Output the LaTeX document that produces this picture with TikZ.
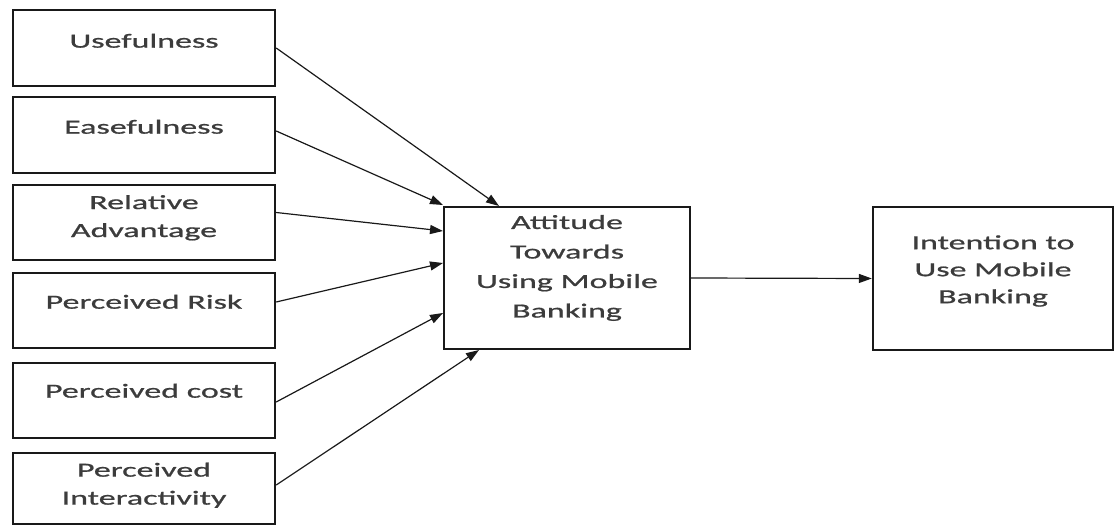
\documentclass[tikz,border=0pt]{standalone}
\usepackage{fontspec}
\newfontfamily\diafont[FakeStretch=1.7,FakeBold=0.9]{Carlito}
\usetikzlibrary{arrows.meta,positioning}
\definecolor{txt}{RGB}{60,60,60}
\definecolor{ln}{RGB}{25,25,25}
\tikzset{
  factor/.style={draw=ln, line width=2.4pt, minimum width=262pt, minimum height=76pt, inner sep=0pt},
  bigbox/.style={draw=ln, line width=2pt, inner sep=0pt},
  lab/.style={anchor=center, align=center, text=txt, font=\diafont\fontsize{20}{28}\selectfont, inner sep=0pt},
  arr/.style={draw=ln, line width=1.2pt, -{Triangle[length=13pt,width=9pt]}}
}
\begin{document}
\begin{tikzpicture}[x=1pt,y=-1pt]
\useasboundingbox (0,0) rectangle (1115,526);
\node[factor, label={[lab, yshift=-32pt]north:Usefulness}] (B1) at (144,48) {};
\node[factor, label={[lab, yshift=-31pt]north:Easefulness}] (B2) at (144,135) {};
\node[factor, minimum height=75pt, label={[lab, yshift=-34pt]north:Relative\\Advantage}] (B3) at (144,222.5) {};
\node[factor, minimum height=75pt, label={[lab, yshift=-30pt]north:Perceived Risk}] (B4) at (144,310.5) {};
\node[factor, minimum height=75pt, label={[lab, yshift=-29pt]north:Perceived cost}] (B5) at (144,400.5) {};
\node[factor, minimum height=71pt, label={[lab, yshift=-33.5pt]north:Perceived\\Interactivity}] (B6) at (144,488.5) {};
\node[bigbox, minimum width=246pt, minimum height=142pt, label={[lab, yshift=10pt, font=\diafont\fontsize{20}{29.5}\selectfont]center:Attitude\\Towards\\Using Mobile\\Banking}] (C) at (567,278) {};
\node[bigbox, line width=2.4pt, minimum width=240pt, minimum height=143pt, label={[lab, yshift=7.5pt, font=\diafont\fontsize{20}{27}\selectfont]center:Intention to\\Use Mobile\\Banking}] (R) at (993,278.5) {};
\draw[arr] (B1.east) -- ([xshift=56pt]C.north west);
\draw[arr] ([yshift=4pt]B2.east) -- ([yshift=1pt]C.north west);
\draw[arr] ([yshift=10pt]B3.east) -- ([yshift=47pt]C.west);
\draw[arr] ([yshift=8.5pt]B4.east) -- ([yshift=15pt]C.west);
\draw[arr] ([yshift=-1.5pt]B5.east) -- ([yshift=-35pt]C.west);
\draw[arr] ([yshift=3.5pt]B6.east) -- ([xshift=36pt]C.south west);
\draw[arr] (C.east) -- (R.west);
\end{tikzpicture}
\end{document}
